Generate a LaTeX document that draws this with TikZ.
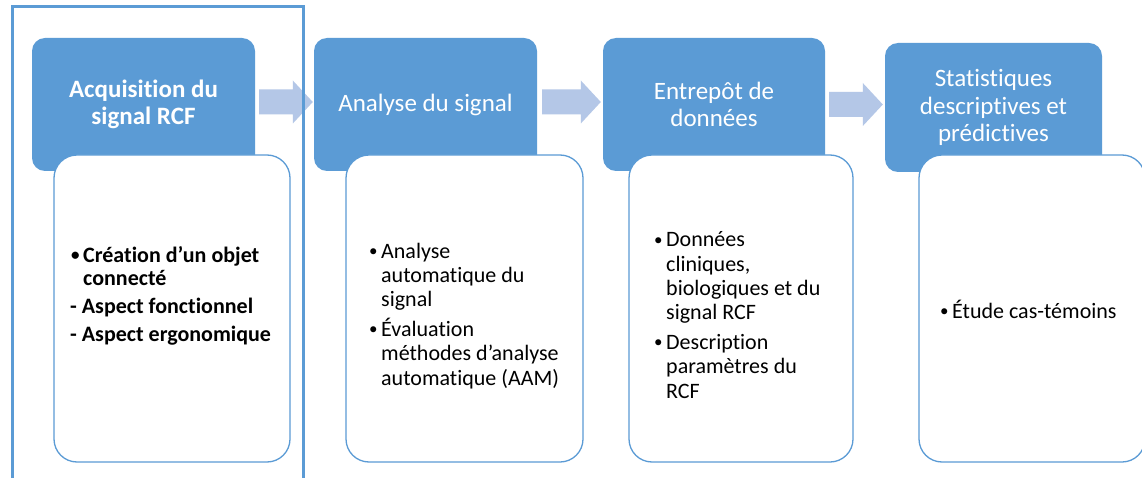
\documentclass[tikz,border=0pt]{standalone}
\usepackage{fontspec}
\setmainfont{Carlito}[Ligatures=NoCommon]
\usetikzlibrary{calc}
\definecolor{accent}{HTML}{5B9BD5}
\definecolor{arrowfill}{HTML}{B4C7E7}
\newcommand{\bul}{\makebox[13pt][l]{\hspace{1pt}\raisebox{1.5pt}{\fontsize{17}{17}\selectfont •}}}
\newcommand{\ind}{\hspace*{13pt}}
\newcommand{\bigarrow}[2]{%
  \fill[blockarrow] (#1) ++(0,-12.5) -| ($(#2)+(-20,-21.5)$) -- (#2) -- ($(#2)+(-20,21.5)$) |- ($(#1)+(0,12.5)$) -- cycle;}
\tikzset{
  headbox/.style={fill=accent, draw=none, rounded corners=13pt, text=white, align=center,
    font=\fontsize{25}{27}\selectfont, inner sep=0pt, minimum width=223pt, minimum height=133pt},
  bodybox/.style={fill=white, draw=accent, line width=1.3pt, rounded corners=23pt,
    inner sep=0pt, minimum height=307pt},
  bodytext/.style={anchor=base west, align=left, inner sep=0pt, text=black,
    font=\fontsize{22}{24.3}\selectfont},
  blockarrow/.style={fill=arrowfill, draw=none},
  outerframe/.style={draw=accent, line width=3pt},
}
\begin{document}
\begin{tikzpicture}[x=1pt,y=-1pt]
\clip (0,0) rectangle (1142,478);
\fill[white] (0,0) rectangle (1142,478);
% header boxes
\node[headbox, font=\bfseries\fontsize{25}{27}\selectfont] (h1) at (143.5,104.5) {Acquisition du\\signal RCF};
\node[headbox] (h2) at (425.5,104.5) {Analyse du signal};
\node[headbox, minimum width=222pt] (h3) at (714,104.5) {Entrepôt de\\données};
\node[headbox, minimum width=217pt, minimum height=129pt, font=\fontsize{25}{27.3}\selectfont] (h4) at (993.5,107.5) {Statistiques\\descriptives et\\prédictives};
% body boxes
\node[bodybox, minimum width=236pt] (b1) at (172,308.5) {};
\node[bodybox, minimum width=237pt] (b2) at (464.5,308.5) {};
\node[bodybox, minimum width=224pt] (b3) at (741,308.5) {};
\node[bodybox, minimum width=226pt] (b4) at (1032,308.5) {};
% body texts (anchored at the baseline of their last line)
\node[bodytext, font=\bfseries\fontsize{22}{23}\selectfont] (t1) at (70,341)
  {\bul Création d’un objet\\ \ind connecté\\[5pt] - Aspect fonctionnel\\[5pt] - Aspect ergonomique};
\node[bodytext] (t2) at (368,385)
  {\bul Analyse\\ \ind automatique du\\ \ind signal\\[5.5pt] \bul Évaluation\\ \ind méthodes d’analyse\\ \ind automatique (AAM)};
\node[bodytext] (t3) at (653,398)
  {\bul Données\\ \ind cliniques,\\ \ind biologiques et du\\ \ind signal RCF\\[5.5pt] \bul Description\\ \ind paramètres du\\ \ind RCF};
\node[bodytext] (t4) at (939,318) {\bul Étude cas-témoins};
% block arrows
\coordinate (a1s) at ($(h1.east)+(4,-2.5)$);
\coordinate (a1t) at ($(h2.west)+(-1,-2.5)$);
\coordinate (a2s) at ($(h2.east)+(5,-2.5)$);
\coordinate (a2t) at ($(h3.west)+(-2,-2.5)$);
\coordinate (a3s) at ($(h3.east)+(4,0)$);
\coordinate (a3t) at ($(h4.west)+(-2,-3)$);
\bigarrow{a1s}{a1t}
\bigarrow{a2s}{a2t}
\bigarrow{a3s}{a3t}
% frame around first step
\draw[outerframe] (12,7) rectangle (303,500);
\end{tikzpicture}
\end{document}
